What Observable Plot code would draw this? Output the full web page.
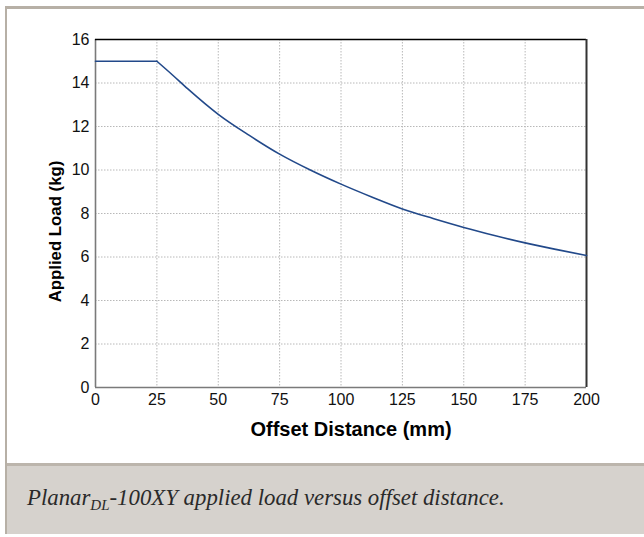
<!DOCTYPE html>
<html>
<head>
<meta charset="utf-8">
<script src="https://cdn.jsdelivr.net/npm/d3@7"></script>
<script src="https://cdn.jsdelivr.net/npm/@observablehq/plot@0.6"></script>
<style>
  html, body { margin: 0; padding: 0; background: #fff; }
  #wrap {
    position: absolute; left: 5px; top: 6px; width: 637px;
    border-top: 3px solid #b7b0a6; border-left: 2px solid #b7b0a6;
    background: #fff;
  }
  #chart svg { display: block; }
  #cap {
    border-top: 3px solid #bcb5ac;
    background: #d6d2cd;
    height: 71px;
    box-sizing: border-box;
    padding: 19px 0 0 20px;
    font-family: "Liberation Serif", "Times New Roman", serif;
    font-style: italic;
    font-size: 22.8px;
    color: #2a2a2a;
    white-space: nowrap;
  }
  #cap sub { font-size: 15px; vertical-align: -5px; line-height: 0; }
</style>
</head>
<body>
<div id="wrap">
  <div id="chart"></div>
  <div id="cap">Planar<sub>DL</sub>-100XY applied load versus offset distance.</div>
</div>
<script>
// Offset distance (mm) and applied load (kg)
const offsetMm = [0, 25, 31.25, 37.5, 50, 62.5, 75, 87.5, 100, 112.5, 125, 137.5, 150, 162.5, 175, 187.5, 200];
const loadKg   = [15, 15, 14.38, 13.74, 12.56, 11.6, 10.73, 10.0, 9.35, 8.76, 8.21, 7.77, 7.36, 6.99, 6.65, 6.35, 6.07];
const xTicks = [0, 25, 50, 75, 100, 125, 150, 175, 200];
const yTicks = [0, 2, 4, 6, 8, 10, 12, 14, 16];
const xTitle = "Offset Distance (mm)";
const yTitle = "Applied Load (kg)";

const data = offsetMm.map((d, i) => ({x: d, y: loadKg[i]}));
const flat = data.filter(d => d.x <= 25);
const falling = data.filter(d => d.x >= 25);

const chart = Plot.plot({
  width: 637,
  height: 454,
  marginLeft: 88,
  marginRight: 58,
  marginTop: 30,
  marginBottom: 76,
  style: {fontFamily: "'Liberation Sans', Arial, sans-serif", fontSize: "16px", color: "#111", background: "#fff"},
  x: {domain: [0, 200]},
  y: {domain: [0, 16]},
  marks: [
    Plot.gridX(xTicks.slice(1, -1), {stroke: "#b8b8b8", strokeOpacity: 1, strokeDasharray: "1.5,1.5"}),
    Plot.gridY(yTicks.slice(1, -1), {stroke: "#b8b8b8", strokeOpacity: 1, strokeDasharray: "1.5,1.5"}),
    Plot.ruleX([0], {stroke: "#7a7a7a", strokeWidth: 1.6}),
    Plot.ruleY([0], {stroke: "#7a7a7a", strokeWidth: 1.6}),
    Plot.ruleY([16], {stroke: "#000", strokeWidth: 1.5}),
    Plot.ruleX([200], {stroke: "#333", strokeWidth: 2}),
    Plot.axisX(xTicks, {tickSize: 0, tickPadding: 6, label: null, fontSize: 16}),
    Plot.axisY(yTicks, {tickSize: 0, tickPadding: 6, label: null, fontSize: 16}),
    Plot.line(flat, {x: "x", y: "y", stroke: "#22498a", strokeWidth: 1.6}),
    Plot.line(falling, {x: "x", y: "y", stroke: "#22498a", strokeWidth: 1.6, curve: "monotone-x"}),
    Plot.text([xTitle], {frameAnchor: "bottom", lineAnchor: "middle", textAnchor: "middle", dy: 42, dx: 10, fontWeight: "bold", fontSize: 20, fill: "#000"}),
    Plot.text([yTitle], {frameAnchor: "left", lineAnchor: "middle", textAnchor: "middle", rotate: -90, dx: -40, dy: 18, fontWeight: "bold", fontSize: 16.8, fill: "#000"})
  ]
});
document.getElementById("chart").appendChild(chart);
</script>
</body>
</html>
